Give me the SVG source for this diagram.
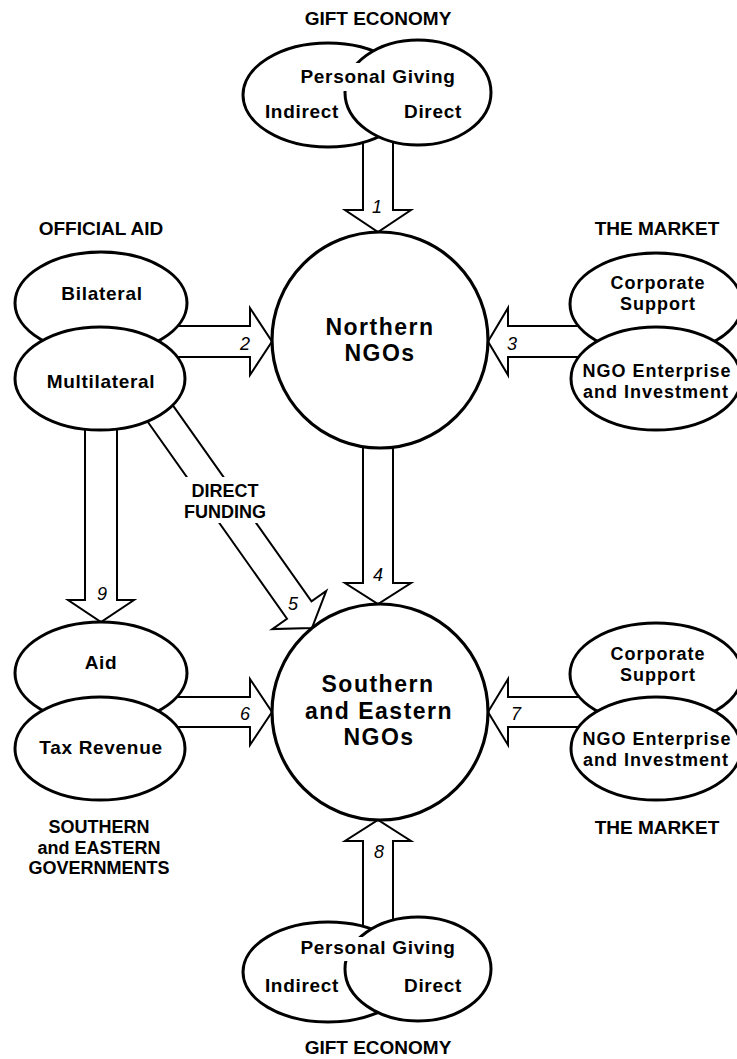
<svg xmlns="http://www.w3.org/2000/svg" width="737" height="1059" viewBox="0 0 737 1059">
<style>
.e{fill:#fff;stroke:#000;stroke-width:3}
.c{fill:#fff;stroke:#000;stroke-width:3.2}
.a{fill:#fff;stroke:#000;stroke-width:2;stroke-linejoin:miter}
.t{font-family:"Liberation Sans",Arial,sans-serif;font-weight:700;font-size:19px;text-anchor:middle;fill:#000}
.l{letter-spacing:0.7px}
.m{font-size:18px}
.ml{font-size:18px;letter-spacing:1px}
.big{font-size:23px;letter-spacing:1.5px}
.n{font-family:"Liberation Sans",Arial,sans-serif;font-style:italic;font-weight:400;font-size:18px;text-anchor:middle;fill:#000}
</style>
<rect width="737" height="1059" fill="#fff"/>
<g id="connectors">
  <path class="a" d="M363,125 L363,210 L345,210 L378,232 L411,210 L393,210 L393,125"/>
  <path class="a" d="M150,326 L250,326 L250,308 L272,341.5 L250,375 L250,357 L150,357"/>
  <path class="a" d="M600,326 L508,326 L508,308 L488,341.5 L508,375 L508,357 L600,357"/>
  <path class="a" d="M363,430 L363,583 L345,583 L378,604 L411,583 L393,583 L393,430"/>
  <path class="a" transform="translate(144.9,391.8) rotate(54.73)" d="M0,-15 L267.3,-15 L267.3,-33 L289.3,0 L267.3,33 L267.3,15 L0,15"/>
  <rect x="176" y="477" width="100" height="46" fill="#fff"/>
  <text class="t m" x="225" y="497">DIRECT<tspan x="225" dy="20.5">FUNDING</tspan></text>
  <path class="a" d="M150,697 L250,697 L250,679 L272,712 L250,745 L250,727 L150,727"/>
  <path class="a" d="M600,697 L508,697 L508,679 L488,712 L508,745 L508,727 L600,727"/>
  <path class="a" d="M363,935 L363,841 L345,841 L378,820 L411,841 L393,841 L393,935"/>
  <path class="a" d="M85,400 L85,600 L68,600 L101,622 L134,600 L117,600 L117,400"/>
  <text class="n" x="377" y="213">1</text>
  <text class="n" x="245" y="350">2</text>
  <text class="n" x="512" y="350">3</text>
  <text class="n" x="378" y="581">4</text>
  <text class="n" x="293" y="610">5</text>
  <text class="n" x="245" y="720">6</text>
  <text class="n" x="516" y="720">7</text>
  <text class="n" x="379" y="858">8</text>
  <text class="n" x="102" y="600">9</text>
</g>
<g id="gift-economy-top">
  <text class="t" x="378" y="25">GIFT ECONOMY</text>
  <ellipse class="e" cx="328" cy="95" rx="85" ry="52"/>
  <ellipse class="e" cx="418" cy="92.5" rx="73" ry="52.5"/>
  <rect x="300" y="63" width="156" height="28" fill="#fff"/>
  <text class="t l" x="378" y="83">Personal Giving</text>
  <text class="t l" x="302" y="118">Indirect</text>
  <text class="t l" x="433" y="118">Direct</text>
</g>
<g id="official-aid">
  <text class="t" x="101" y="235">OFFICIAL AID</text>
  <ellipse class="e" cx="101" cy="303" rx="86" ry="51"/>
  <ellipse class="e" cx="100" cy="378.5" rx="85" ry="51.5"/>
  <text class="t l" x="102" y="300">Bilateral</text>
  <text class="t l" x="101" y="388">Multilateral</text>
</g>
<g id="northern-ngos">
  <circle class="c" cx="380" cy="340" r="108"/>
  <text class="t big" x="380" y="335">Northern<tspan x="380" dy="26">NGOs</tspan></text>
</g>
<g id="market-top">
  <text class="t" x="657" y="235">THE MARKET</text>
  <ellipse class="e" cx="656" cy="304" rx="86" ry="51"/>
  <ellipse class="e" cx="656" cy="378.5" rx="85" ry="51.5"/>
  <text class="t ml" x="658" y="289">Corporate<tspan x="658" dy="20.5">Support</tspan></text>
  <text class="t ml" x="657" y="377">NGO Enterprise<tspan x="656" dy="20.5">and Investment</tspan></text>
</g>
<g id="southern-governments">
  <ellipse class="e" cx="101" cy="673" rx="86" ry="51"/>
  <ellipse class="e" cx="100" cy="748.5" rx="85" ry="51.5"/>
  <text class="t l" x="101" y="669">Aid</text>
  <text class="t l" x="101" y="754">Tax Revenue</text>
  <text class="t m" x="99" y="833">SOUTHERN<tspan x="99" dy="20.5">and EASTERN</tspan><tspan x="99" dy="20.5">GOVERNMENTS</tspan></text>
</g>
<g id="southern-ngos">
  <circle class="c" cx="380" cy="712" r="108"/>
  <text class="t big" x="378" y="692">Southern<tspan x="379" dy="27">and Eastern</tspan><tspan x="379" dy="26">NGOs</tspan></text>
</g>
<g id="market-bottom">
  <ellipse class="e" cx="656" cy="674" rx="86" ry="51"/>
  <ellipse class="e" cx="656" cy="748.5" rx="85" ry="51.5"/>
  <text class="t ml" x="658" y="660">Corporate<tspan x="658" dy="20.5">Support</tspan></text>
  <text class="t ml" x="657" y="745">NGO Enterprise<tspan x="656" dy="20.5">and Investment</tspan></text>
  <text class="t" x="657" y="834">THE MARKET</text>
</g>
<g id="gift-economy-bottom">
  <ellipse class="e" cx="328" cy="972" rx="85" ry="50"/>
  <ellipse class="e" cx="418" cy="969" rx="73" ry="52"/>
  <rect x="300" y="937" width="156" height="24" fill="#fff"/>
  <text class="t l" x="378" y="954">Personal Giving</text>
  <text class="t l" x="302" y="992">Indirect</text>
  <text class="t l" x="433" y="992">Direct</text>
  <text class="t" x="378" y="1054">GIFT ECONOMY</text>
</g>
</svg>
